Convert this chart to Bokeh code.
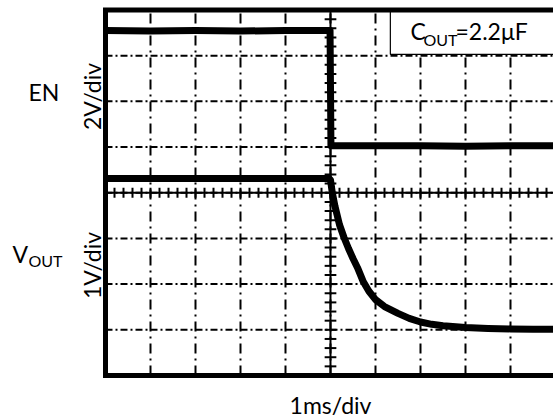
import numpy as np
from bokeh.plotting import figure
from bokeh.models import Range1d
from bokeh.core.properties import value
from bokeh.embed import file_html
from bokeh.resources import INLINE

# ---- data (in screen divisions; time 1 ms/div) ----
en_t = [0.0, 1.0, 2.0, 3.0, 4.0, 4.99, 5.01, 6.0, 7.0, 8.0, 9.0, 10.0]
en_v = [7.55, 7.54, 7.55, 7.54, 7.55, 7.55, 5.03, 5.03, 5.03, 5.02, 5.03, 5.03]

vout_t = [0.0, 1.0, 2.0, 3.0, 4.0, 4.97, 5.00, 5.04, 5.10, 5.20, 5.30, 5.40, 5.50,
          5.60, 5.73, 5.85, 6.00, 6.20, 6.50, 6.75, 7.00, 7.25, 7.50, 8.00,
          8.50, 9.00, 9.50, 10.0]
vout_v = [4.31, 4.31, 4.31, 4.31, 4.31, 4.31, 4.28, 4.00, 3.70, 3.30, 3.02, 2.78, 2.56,
          2.36, 2.05, 1.85, 1.66, 1.51, 1.36, 1.25, 1.17, 1.12, 1.09, 1.05,
          1.03, 1.02, 1.01, 1.01]

x_divs = 10
y_divs = 8
FONT = value("Lato")
BIG = 23
SUB = 16

p = figure(width=553, height=418, output_backend="svg", toolbar_location=None,
           x_range=Range1d(-2.3333, 9.9556), y_range=Range1d(-0.9412, 8.2079),
           x_axis_location=None, y_axis_location=None,
           min_border_left=0, min_border_right=0, min_border_top=0, min_border_bottom=0)
p.outline_line_color = None
p.background_fill_color = "white"
p.border_fill_color = "white"
p.xgrid.visible = False
p.ygrid.visible = False

# grid inside the scope area
gx = np.arange(1, x_divs)
p.segment(x0=gx, y0=0, x1=gx, y1=y_divs, line_color="black", line_width=2, line_dash="10 5 2 5")
gy = np.arange(1, y_divs)
p.segment(x0=0, y0=gy, x1=x_divs, y1=gy, line_color="black", line_width=2, line_dash="7 3 2 3")

# center cross axes with minor ticks
p.line([0, x_divs], [y_divs / 2, y_divs / 2], line_color="black", line_width=2)
p.line([x_divs / 2, x_divs / 2], [0, y_divs], line_color="black", line_width=2)
tx = np.arange(0, x_divs + 0.001, 0.2)
p.segment(x0=tx, y0=y_divs / 2 - 0.11, x1=tx, y1=y_divs / 2 + 0.11, line_color="black", line_width=2)
ty = np.arange(0, y_divs + 0.001, 0.2)
p.segment(x0=x_divs / 2 - 0.13, y0=ty, x1=x_divs / 2 + 0.13, y1=ty, line_color="black", line_width=2)

# legend box
p.quad(left=6.33, right=11, bottom=7.03, top=y_divs, fill_color="white", line_color="black", line_width=1.2)

# traces
p.line(en_t, en_v, line_color="black", line_width=7, line_join="round")
p.line(vout_t, vout_v, line_color="black", line_width=7, line_join="round")

# frame border (left, top, bottom)
p.line([11, 0, 0, 11], [y_divs, y_divs, 0, 0], line_color="black", line_width=5, line_join="miter")

def lab(x, y, text, size, align="left", angle=0.0):
    p.text(x=[x], y=[y], text=[text], text_font=FONT, text_font_size=f"{size}px",
           text_align=align, text_baseline="middle", angle=angle, text_color="black")

lab(6.778, 7.53, "C", BIG)
lab(7.067, 7.354, "OUT", SUB)
lab(7.778, 7.53, "=2.2\u03bcF", BIG)

lab(-1.367, 6.205, "EN", BIG, align="center")
lab(-0.311, 6.107, "2V/div", BIG, align="center", angle=np.pi / 2)
lab(-2.067, 2.65, "V", BIG)
lab(-1.711, 2.517, "OUT", SUB)
lab(-0.311, 2.408, "1V/div", BIG, align="center", angle=np.pi / 2)
lab(5.0, -0.646, "1ms/div", BIG, align="center")

open("out.html", "w").write(file_html(p, INLINE))
